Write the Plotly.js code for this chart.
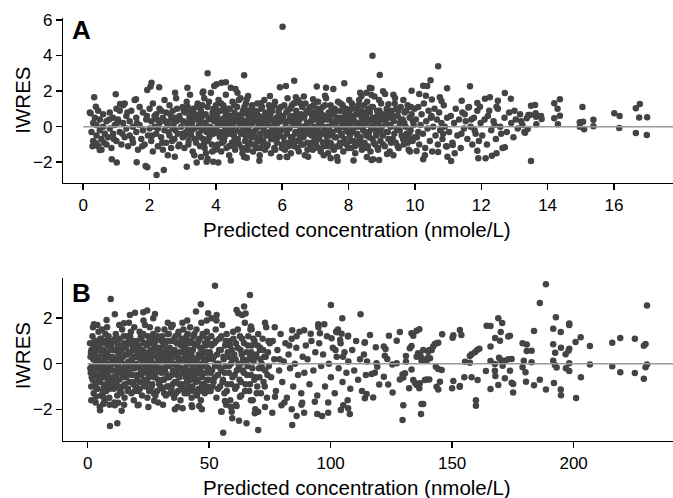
<!DOCTYPE html>
<html>
<head>
<meta charset="utf-8">
<script src="https://cdn.plot.ly/plotly-3.0.1.min.js"></script>
<style>html,body{margin:0;padding:0;background:#fff;}#chart{width:673px;height:498px;}</style>
</head>
<body>
<div id="chart"></div>
<script>
// ---------- Panel A : Predicted concentration (nmole/L) vs IWRES ----------
const aTicksX = [0, 2, 4, 6, 8, 10, 12, 14, 16];
const aTicksY = [-2, 0, 2, 4, 6];
const aLow = [
[0.2,0.8],[0.25,-0.3],[0.3,0.2],[0.3,-0.8],[0.35,0.5],[0.4,-0.5],[0.4,0.1],[0.45,-1.1],[0.45,0.9],[0.5,-0.2],[0.5,0.4],[0.55,-0.7],[0.55,-1.3],[0.6,0.7],[0.6,0.0],[0.65,-0.4],[0.7,-1.0],[0.7,0.3],[0.75,-0.6],[0.8,0.8],[0.8,-0.1],[0.85,-1.2],[0.9,0.5],[0.9,-0.4],[0.95,0.1],[1.0,1.0],[1.0,-0.8],
[1.05,0.4],[1.1,-0.3],[1.1,0.9],[1.15,-1.0],[1.2,0.2],[1.2,1.2],[1.25,-0.6],[1.3,0.6],[1.3,-0.1],[1.35,-1.1],[1.4,0.3],[1.4,-0.5],[1.45,0.9],[1.5,-0.9],[1.5,0.0],[1.55,1.5],[1.6,-0.3],[1.6,0.5],[1.65,-1.3],[1.7,0.1],[1.75,-0.7],[1.8,0.8],[1.8,-0.2],[1.85,-1.0],[1.9,0.4],[1.95,-0.5],[2.0,1.0],[2.0,-0.1],[1.7,1.1],[1.25,1.3],
[2.05,0.3],[2.05,-0.8],[2.1,1.3],[2.1,-1.4],[2.15,0.0],[2.2,0.7],[2.2,-0.4],[2.25,-1.1],[2.3,1.0],[2.3,0.2],[2.35,-0.6],[2.4,0.5],[2.4,-1.3],[2.45,1.5],[2.45,-0.2],[2.5,0.8],[2.5,-0.9],[2.55,0.1],[2.6,-0.5],[2.6,1.2],[2.65,0.4],[2.65,-1.2],[2.7,-0.1],[2.7,0.9],[2.75,-0.7],[2.8,0.3],[2.8,1.6],[2.85,-0.4],[2.9,0.6],[2.9,-1.0],[2.95,0.0],[3.0,1.1],[3.0,-0.6],[2.35,0.9],[2.55,-1.6],[2.15,0.6],[2.75,0.5],[2.25,-0.1],
[1.02,0.2],[1.18,-0.4],[1.33,0.8],[1.48,-0.7],[1.62,0.2],[1.78,-1.1],[1.92,0.6],[2.08,-0.5],[2.22,0.4],[2.38,-0.9],[2.48,0.3],[0.28,-1.1],[0.62,-0.9],[0.78,0.4],[0.92,-0.7]
];
const aCore = [
[3.02,0.3],[3.05,-1.2],[3.08,0.8],[3.1,-0.3],[3.12,1.4],[3.15,0.0],[3.18,-0.8],[3.2,0.5],[3.22,1.8],[3.25,-0.5],[3.28,0.2],[3.3,-1.4],[3.32,1.0],[3.35,-0.1],[3.38,0.7],[3.4,-0.9],[3.42,0.4],[3.45,1.3],[3.48,-0.4],[3.5,0.1],[3.52,-1.1],[3.55,0.9],[3.58,-0.2],[3.6,0.6],[3.62,-0.7],[3.65,1.6],[3.68,0.2],[3.7,-1.5],[3.72,-0.3],[3.75,1.1],[3.78,0.4],[3.8,-0.6],[3.82,0.0],[3.85,1.9],[3.88,-1.0],[3.9,0.8],[3.92,-0.4],[3.95,0.3],[3.98,-1.3],[4.0,1.2],[3.35,-1.6],[3.55,-1.7],[3.15,1.1],[3.45,0.6],[3.65,-0.9],[3.85,-0.1],[3.75,-1.8],[3.25,0.9],[3.95,0.6],[3.6,1.9],
[4.02,-0.2],[4.04,0.6],[4.06,-1.0],[4.08,1.5],[4.1,0.1],[4.12,-0.6],[4.14,0.9],[4.16,-1.4],[4.18,0.3],[4.2,-0.3],[4.22,1.2],[4.24,-0.8],[4.26,0.5],[4.28,0.0],[4.3,1.8],[4.32,-1.2],[4.34,0.7],[4.36,-0.4],[4.38,0.2],[4.4,-1.6],[4.42,1.0],[4.44,-0.1],[4.46,0.5],[4.48,-0.9],[4.5,1.4],[4.52,0.0],[4.54,-0.5],[4.56,0.8],[4.58,-1.3],[4.6,0.3],[4.62,-0.2],[4.64,1.1],[4.66,-0.7],[4.68,0.6],[4.7,-1.0],[4.72,0.1],[4.74,1.6],[4.76,-0.4],[4.78,0.4],[4.8,-1.5],[4.82,0.9],[4.84,-0.1],[4.86,0.3],[4.88,-0.8],[4.9,1.3],[4.92,-0.3],[4.94,0.7],[4.96,-1.1],[4.98,0.0],[5.0,0.5],[4.15,-0.3],[4.35,0.4],[4.55,-0.8],[4.75,0.2],[4.95,-0.5],[4.25,1.0],[4.45,-1.9],[4.65,1.9],[4.85,-1.7],[4.05,0.2],
[5.02,-0.9],[5.04,0.7],[5.06,-0.3],[5.08,1.1],[5.1,0.2],[5.12,-1.4],[5.14,0.5],[5.16,-0.6],[5.18,0.9],[5.2,-1.1],[5.22,0.3],[5.24,1.3],[5.26,-0.8],[5.28,0.0],[5.3,0.6],[5.32,-1.6],[5.34,-0.4],[5.36,1.0],[5.38,0.2],[5.4,-0.9],[5.42,0.5],[5.44,-0.2],[5.46,1.5],[5.48,-1.3],[5.5,0.8],[5.52,-0.5],[5.54,0.1],[5.56,-1.0],[5.58,0.4],[5.6,1.2],[5.62,-0.3],[5.64,0.7],[5.66,-1.5],[5.68,0.0],[5.7,0.9],[5.72,-0.7],[5.74,0.3],[5.76,-1.2],[5.78,1.4],[5.8,-0.1],[5.82,0.5],[5.84,-0.9],[5.86,0.2],[5.88,-0.5],[5.9,1.0],[5.92,-1.7],[5.94,0.6],[5.96,-0.2],[5.98,0.3],[6.0,-1.0],[5.15,-0.5],[5.45,0.3],[5.75,-0.4],[5.35,-1.2],[5.65,1.0],
[6.02,0.4],[6.04,-0.6],[6.06,1.2],[6.08,-1.3],[6.1,0.0],[6.12,0.8],[6.14,-0.4],[6.16,1.6],[6.18,-0.9],[6.2,0.3],[6.22,-0.1],[6.24,1.0],[6.26,-1.5],[6.28,0.6],[6.3,-0.6],[6.32,0.2],[6.34,1.3],[6.36,-1.1],[6.38,0.5],[6.4,-0.3],[6.42,0.9],[6.44,-0.8],[6.46,0.1],[6.48,1.5],[6.5,-1.4],[6.52,0.4],[6.54,-0.2],[6.56,0.7],[6.58,-1.0],[6.6,1.1],[6.62,0.0],[6.64,-0.6],[6.66,0.5],[6.68,-1.6],[6.7,1.3],[6.72,-0.4],[6.74,0.2],[6.76,-0.9],[6.78,0.8],[6.8,-0.1],[6.82,1.0],[6.84,-1.2],[6.86,0.3],[6.88,-0.5],[6.9,0.6],[6.92,-1.3],[6.94,1.2],[6.96,0.0],[6.98,-0.7],[7.0,0.4],[6.25,0.3],[6.55,-0.5],[6.85,0.9],[6.15,-1.7],[6.65,1.7],
[7.02,-1.0],[7.04,0.6],[7.06,-0.2],[7.08,1.4],[7.1,0.1],[7.12,-0.7],[7.14,0.9],[7.16,-1.4],[7.18,0.3],[7.2,-0.4],[7.22,1.1],[7.24,0.0],[7.26,-1.1],[7.28,0.6],[7.3,-0.2],[7.32,1.6],[7.34,-0.8],[7.36,0.4],[7.38,-1.5],[7.4,0.8],[7.42,0.0],[7.44,-0.5],[7.46,1.2],[7.48,-1.0],[7.5,0.3],[7.52,-0.3],[7.54,0.7],[7.56,-1.3],[7.58,1.0],[7.6,0.1],[7.62,-0.6],[7.64,0.5],[7.66,-1.1],[7.68,1.4],[7.7,-0.2],[7.72,0.3],[7.74,-0.9],[7.76,0.9],[7.78,-0.4],[7.8,0.0],[7.82,1.2],[7.84,-1.4],[7.86,0.5],[7.88,-0.7],[7.9,0.2],[7.92,1.0],[7.94,-1.0],[7.96,0.6],[7.98,-0.3],[8.0,0.1],[7.15,0.4],[7.45,-0.9],[7.75,0.5],[7.25,-1.6],[7.65,-1.7],
[8.02,0.8],[8.04,-0.5],[8.06,0.2],[8.08,-1.2],[8.1,1.3],[8.12,-0.1],[8.14,0.6],[8.16,-0.8],[8.18,0.3],[8.2,-1.5],[8.22,1.0],[8.24,0.0],[8.26,-0.4],[8.28,0.7],[8.3,-1.0],[8.32,1.5],[8.34,0.2],[8.36,-0.6],[8.38,0.9],[8.4,-1.3],[8.42,0.4],[8.44,-0.2],[8.46,1.2],[8.48,-0.9],[8.5,0.1],[8.52,0.6],[8.54,-0.5],[8.56,1.4],[8.58,-1.1],[8.6,0.3],[8.62,-0.3],[8.64,0.8],[8.66,-1.4],[8.68,0.0],[8.7,1.1],[8.72,-0.7],[8.74,0.5],[8.76,-0.1],[8.78,1.7],[8.8,-1.0],[8.82,0.3],[8.84,-0.5],[8.86,0.9],[8.88,-1.2],[8.9,0.2],[8.92,-0.2],[8.94,0.6],[8.96,-0.8],[8.98,1.3],[9.0,0.0],[8.35,1.9],[8.55,-1.7],[8.15,-1.9]
];
const aCore2 = [
[2.52,0.2],[2.57,-0.3],[2.62,0.7],[2.68,-0.8],[2.72,0.1],[2.78,-0.2],[2.83,1.0],[2.87,-1.1],[2.92,0.4],[2.98,-0.4],[3.03,0.9],[3.07,-0.5],[3.13,0.2],[3.17,-1.0],[3.23,0.6],[3.27,-0.2],[3.33,0.4],[3.37,-0.7],[3.43,1.1],[3.47,0.0],
[3.53,-0.6],[3.56,0.3],[3.59,1.2],[3.63,-0.1],[3.66,-1.2],[3.69,0.7],[3.73,0.0],[3.76,-0.8],[3.79,1.4],[3.83,0.5],[3.86,-0.4],[3.89,-1.4],[3.93,1.0],[3.96,-0.1],[3.99,0.4],
[4.03,-1.2],[4.06,0.9],[4.09,-0.4],[4.13,0.4],[4.16,1.3],[4.19,-0.9],[4.23,0.1],[4.26,-0.6],[4.29,0.8],[4.33,-0.2],[4.36,1.0],[4.39,-1.1],[4.43,0.6],[4.46,-0.4],[4.49,0.2],[4.53,-1.1],[4.56,1.2],[4.59,-0.2],[4.63,0.5],[4.66,-0.9],[4.69,1.5],[4.73,-0.3],[4.76,0.7],[4.79,-1.2],[4.83,0.0],[4.86,1.1],[4.89,-0.5],[4.93,0.3],[4.96,-1.3],[4.99,0.9],
[5.03,0.1],[5.06,-0.6],[5.09,1.2],[5.13,-1.0],[5.16,0.4],[5.19,-0.2],[5.23,0.8],[5.26,-1.2],[5.29,0.2],[5.33,-0.6],[5.36,0.5],[5.39,1.1],[5.43,-0.8],[5.46,0.0],[5.49,0.7],[5.53,-1.1],[5.56,0.3],[5.59,-0.4],[5.63,1.0],[5.66,-0.7],[5.69,0.4],[5.73,-0.2],[5.76,1.2],[5.79,-1.3],[5.83,0.2],[5.86,-0.6],[5.89,0.8],[5.93,-0.3],[5.96,1.1],[5.99,-1.2],
[6.03,0.6],[6.06,-0.9],[6.09,0.3],[6.13,-0.2],[6.16,0.9],[6.19,-1.1],[6.23,0.5],[6.26,-0.6],[6.29,1.2],[6.33,-0.9],[6.36,0.1],[6.39,-0.4],[6.43,0.7],[6.46,-1.2],[6.49,0.3],[6.53,-0.7],[6.56,1.3],[6.59,0.0],[6.63,-1.0],[6.66,0.6],[6.69,-0.3],[6.73,0.9],[6.76,-1.3],[6.79,0.2],[6.83,-0.4],[6.86,1.1],[6.89,-0.9],[6.93,0.4],[6.96,-0.2],[6.99,0.8],
[7.03,-0.5],[7.06,1.0],[7.09,-1.2],[7.13,0.2],[7.16,-0.3],[7.19,0.7],[7.23,-0.9],[7.26,0.4],[7.29,1.2],[7.33,-0.5],[7.36,0.0],[7.39,-1.1],[7.43,0.6],[7.46,-0.3],[7.49,1.0],[7.53,-1.2],[7.56,0.2],[7.59,-0.6],[7.63,0.9],[7.66,-0.1],[7.69,0.5],[7.73,-1.1],[7.76,1.3],[7.79,-0.5],[7.83,0.3],[7.86,-0.9],[7.89,0.8],[7.93,-0.2],[7.96,0.4],[7.99,-1.2],
[8.03,0.5],[8.06,-0.8],[8.09,1.0],[8.13,-0.3],[8.16,0.3],[8.19,-1.1],[8.23,0.7],[8.26,-0.5],[8.29,1.2],[8.33,-0.8],[8.36,0.0],[8.39,0.5],[8.43,-1.0],[8.46,0.8],[8.49,-0.3],[8.53,0.3],[8.56,-1.2],[8.59,1.0],[8.63,-0.6],[8.66,0.4],[8.69,-0.1],[8.73,1.1],[8.76,-0.9],[8.79,0.2],[8.83,-0.4],[8.86,0.6],[8.89,-1.3],[8.93,0.9],[8.96,-0.2],[8.99,0.4],
[9.04,-1.0],[9.08,0.5],[9.14,-0.3],[9.18,0.8],[9.24,0.1],[9.28,-0.9],[9.34,0.6],[9.38,-0.4],[9.44,1.0],[9.48,-1.1],[9.54,-0.2],[9.58,0.4],[9.64,-0.7],[9.68,0.2],[9.74,0.9],[9.78,-0.9],[9.84,-0.3],[9.88,1.1],[9.94,0.3],[9.98,-0.6]
];
const aTail = [
[9.03,-0.5],[9.06,0.7],[9.09,-1.1],[9.12,0.2],[9.15,1.0],[9.18,-0.3],[9.21,0.5],[9.24,-1.4],[9.27,0.0],[9.3,0.9],[9.33,-0.7],[9.36,0.3],[9.39,1.3],[9.42,-0.9],[9.45,-0.1],[9.48,0.6],[9.51,-1.2],[9.54,0.2],[9.57,1.1],[9.6,-0.5],[9.63,0.4],[9.66,-1.0],[9.69,0.8],[9.72,0.0],[9.75,-0.4],[9.78,1.2],[9.81,-1.3],[9.84,0.5],[9.87,-0.2],[9.9,0.7],[9.93,-0.8],[9.96,0.1],[9.99,1.0],[9.2,-0.7],[9.5,0.9],[9.8,-0.6],[9.35,-1.6],[9.65,1.5],
[10.03,0.4],[10.06,-0.6],[10.1,1.1],[10.13,-1.0],[10.17,0.1],[10.2,0.7],[10.24,-0.4],[10.27,1.3],[10.31,-1.2],[10.34,0.3],[10.38,-0.1],[10.41,0.9],[10.45,-0.8],[10.48,0.5],[10.52,-1.4],[10.55,0.0],[10.59,1.0],[10.62,-0.5],[10.66,0.4],[10.69,-1.0],[10.73,0.8],[10.76,-0.2],[10.8,0.2],[10.83,-0.7],[10.87,1.2],[10.9,0.0],[10.94,-1.1],[10.97,0.5],[10.1,-0.3],[10.5,0.6],[10.85,-0.4],[10.3,-1.6],
[11.03,-0.3],[11.08,0.6],[11.13,-0.9],[11.18,0.2],[11.23,1.0],[11.28,-0.5],[11.33,0.4],[11.38,-1.2],[11.43,0.8],[11.48,-0.1],[11.53,0.3],[11.58,-0.7],[11.63,1.1],[11.68,0.0],[11.73,-1.0],[11.78,0.5],[11.83,-0.4],[11.88,0.9],[11.93,-0.8],[11.98,0.2],[11.2,-1.5],[11.5,0.7],[11.8,-0.2],[11.4,-0.4],[11.7,0.4],
[12.03,-0.5],[12.1,0.4],[12.17,-1.0],[12.24,0.9],[12.3,-0.2],[12.37,0.3],[12.44,-0.7],[12.5,1.0],[12.57,0.0],[12.64,-1.2],[12.7,0.5],[12.77,-0.3],[12.84,0.8],[12.9,0.2],[12.97,-0.6],[13.04,0.4],[13.1,-0.1],[13.17,0.7],[13.24,0.1],[13.3,-0.3],[12.2,0.6],[12.6,-0.4],[13.0,0.9],[12.4,0.1],[13.2,0.3]
];
const aRead = [
[13.50,1.18],[13.62,1.22],[13.42,0.66],[13.37,0.47],[13.47,0.66],[13.64,0.75],[13.65,0.56],[13.80,0.60],[13.82,0.43],[13.66,0.13],[13.40,-0.13],[13.32,-0.34],[13.50,-1.93],[14.20,1.31],[14.37,1.54],[14.30,1.01],[14.37,0.62],[14.20,0.47],[14.31,0.13],[15.05,1.11],[14.97,0.25],[15.07,0.28],[14.97,0.00],[15.10,-0.15],[15.38,0.39],[15.38,0.02],[16.01,0.75],[16.17,0.60],[16.16,-0.07],[16.66,1.03],[16.78,1.28],[16.76,0.51],[17.00,0.53],[16.66,-0.35],[16.99,-0.47],
[8.72,3.99],[8.94,2.90],[10.70,3.39],[10.47,2.61],[10.25,2.30],[10.37,2.29],[10.97,2.16],[11.66,2.27],[9.90,2.02],[12.71,1.89],[12.89,1.57],[12.26,1.65],[12.11,1.57],[12.50,1.46],[11.41,1.46],[11.88,1.33],[11.96,1.12],[11.61,1.07],[12.46,1.12],[10.75,1.65],[10.80,1.44],[10.51,1.52],[10.33,1.74],[10.13,1.84],[9.04,1.99],[9.10,1.84],[9.35,1.80],[9.40,1.61],[8.92,1.50],[9.20,1.26],[8.69,2.16],[8.69,1.78],
[10.25,-1.83],[10.70,-1.42],[10.98,-1.69],[11.09,-1.93],[10.96,-1.12],[11.14,-1.03],[11.91,-1.78],[12.13,-1.78],[12.32,-1.63],[12.46,-1.49],[12.71,-1.16],[11.88,-1.35],[8.92,-1.87],[9.16,-1.53],[8.74,-1.83],[9.85,-1.40],[10.05,-1.37],
[6.01,5.62],[4.85,2.89],[6.36,2.58],[7.87,2.44],[5.93,2.21],[6.11,2.29],[7.04,2.25],[7.32,2.19],[7.54,2.12],[8.64,2.19],[4.17,2.47],[4.30,2.49],[4.02,2.38],[4.45,2.19],[4.59,2.12],[4.97,1.72],[4.93,1.54],[5.63,1.72],[5.36,1.31],[6.41,1.65],[6.40,1.35],[6.93,1.54],[7.29,1.74],[8.02,1.50],[8.39,1.72],[8.54,1.91],
[4.07,-2.02],[4.93,-1.74],[5.31,-1.91],[6.13,-1.69],[6.78,-1.69],[7.46,-1.78],[7.67,-1.91],[8.69,-1.87],
[3.75,3.00],[2.06,2.47],[2.03,2.25],[1.93,2.06],[2.29,2.21],[2.77,1.91],[3.14,2.19],[3.62,1.97],[3.95,2.29],[0.33,1.65],[0.98,1.82],[1.59,1.54],[0.38,1.12],[0.22,0.75],[1.11,1.28],
[0.86,-1.83],[1.01,-2.02],[1.61,-2.00],[1.88,-2.21],[1.93,-2.28],[2.21,-2.71],[2.43,-2.43],[2.76,-1.69],[3.12,-2.25],[3.42,-2.02],[3.72,-1.97],[3.92,-1.97],[0.50,-1.31],[0.40,-0.93]
];

// ---------- Panel B ----------
const bTicksX = [0, 50, 100, 150, 200];
const bTicksY = [-2, 0, 2];
const bLow = [
[1.0,0.9],[1.2,0.3],[1.3,-0.4],[1.5,-1.0],[1.6,0.6],[1.8,-0.1],[2.0,1.2],[2.1,-0.7],[2.3,0.2],[2.5,-1.3],[2.6,0.8],[2.8,-0.3],[3.0,0.4],[3.2,-0.9],[3.4,1.0],[3.5,0.0],[3.7,-0.5],[3.9,0.6],[4.1,-1.1],[4.3,0.2],[4.5,1.4],[4.7,-0.2],[4.9,0.7],[5.1,-0.8],[5.3,0.1],[5.5,-1.4],[5.7,1.1],[5.9,-0.4],[6.1,0.4],[6.3,-0.1],[6.5,0.9],[6.7,-1.0],[6.9,0.2],[7.1,-0.6],[7.3,1.3],[7.5,0.0],[7.7,-1.2],[7.9,0.5],[8.1,-0.3],[8.3,0.8],[8.5,-0.7],[8.7,0.3],[8.9,-1.5],[9.1,1.0],[9.3,-0.2],[9.5,0.6],[9.7,-0.9],[9.9,0.1],[1.5,-1.6],[2.2,1.6],[3.3,-1.7],[4.0,1.7],[5.0,-1.9],[6.0,1.5],[7.0,-1.6],[8.0,1.6],[9.0,-1.8],[1.1,-0.2],[2.7,0.4],[4.4,-0.5],[6.2,-0.6],[7.8,0.9],
[10.2,0.3],[10.4,-0.6],[10.6,1.0],[10.8,-1.1],[11.0,0.0],[11.2,0.6],[11.4,-0.3],[11.6,1.3],[11.8,-0.9],[12.0,0.2],[12.2,-1.4],[12.4,0.8],[12.6,-0.1],[12.8,0.4],[13.0,-0.7],[13.2,1.1],[13.4,-1.2],[13.6,0.1],[13.8,0.6],[14.0,-0.4],[14.2,1.5],[14.4,-1.0],[14.6,0.3],[14.8,-0.2],[15.0,0.9],[15.2,-1.5],[15.4,0.0],[15.6,0.7],[15.8,-0.6],[16.0,1.2],[16.2,-0.3],[16.4,0.4],[16.6,-1.1],[16.8,0.1],[17.0,1.0],[17.2,-0.8],[17.4,0.5],[17.6,-0.1],[17.8,1.4],[18.0,-1.3],[18.2,0.2],[18.4,-0.5],[18.6,0.8],[18.8,-0.9],[19.0,0.3],[19.2,1.6],[19.4,-0.2],[19.6,0.6],[19.8,-1.0],[20.0,0.0],[11.0,-1.7],[13.0,1.7],[15.0,-1.8],[17.0,1.8],[19.0,-1.6],[12.5,0.5],[16.5,-0.5],
[20.2,1.0],[20.4,-0.5],[20.6,0.4],[20.8,-1.2],[21.0,0.7],[21.2,-0.1],[21.4,1.4],[21.6,-0.8],[21.8,0.2],[22.0,-0.3],[22.2,1.1],[22.4,-1.4],[22.6,0.5],[22.8,0.0],[23.0,0.9],[23.2,-0.7],[23.4,0.3],[23.6,1.7],[23.8,-1.0],[24.0,0.1],[24.2,-0.4],[24.4,0.8],[24.6,-1.5],[24.8,1.2],[25.0,0.0],[25.2,-0.6],[25.4,0.5],[25.6,1.6],[25.8,-1.1],[26.0,0.2],[26.2,-0.2],[26.4,0.9],[26.6,-0.9],[26.8,0.4],[27.0,1.3],[27.2,-1.3],[27.4,0.0],[27.6,0.6],[27.8,-0.5],[28.0,1.0],[28.2,-0.1],[28.4,0.3],[28.6,-1.2],[28.8,1.5],[29.0,-0.7],[29.2,0.7],[29.4,0.1],[29.6,-0.3],[29.8,1.1],[30.0,-1.0],[21.0,-1.8],[23.0,1.9],[25.0,-1.9],[27.0,2.0],[29.0,-1.7],[22.5,0.6],[26.5,-0.4]
];
const bCore = [
[30.2,0.4],[30.4,-0.4],[30.6,1.2],[30.8,-1.1],[31.0,0.1],[31.2,0.8],[31.4,-0.7],[31.6,1.5],[31.8,-0.2],[32.0,0.5],[32.2,-1.4],[32.4,0.0],[32.6,1.0],[32.8,-0.6],[33.0,0.3],[33.2,-1.0],[33.4,1.3],[33.6,-0.1],[33.8,0.7],[34.0,-1.3],[34.2,0.2],[34.4,1.6],[34.6,-0.5],[34.8,0.4],[35.0,-0.9],[35.2,1.0],[35.4,0.0],[35.6,-1.5],[35.8,0.6],[36.0,-0.3],[36.2,1.2],[36.4,-0.8],[36.6,0.3],[36.8,-0.1],[37.0,0.9],[37.2,-1.2],[37.4,1.4],[37.6,0.1],[37.8,-0.6],[38.0,0.5],[38.2,-1.6],[38.4,0.8],[38.6,-0.2],[38.8,1.1],[39.0,-0.9],[39.2,0.2],[39.4,1.5],[39.6,-0.4],[39.8,0.6],[40.0,-1.1],[31.0,-1.8],[33.0,1.8],[35.0,1.7],[37.0,-1.9],[39.0,1.8],[32.5,0.6],[36.5,-0.4],
[40.2,0.3],[40.4,-0.6],[40.6,1.0],[40.8,-1.3],[41.0,0.0],[41.2,1.3],[41.4,-0.3],[41.6,0.6],[41.8,-1.0],[42.0,0.2],[42.2,1.6],[42.4,-0.7],[42.6,0.4],[42.8,-1.5],[43.0,0.9],[43.2,-0.1],[43.4,-0.5],[43.6,1.2],[43.8,-1.2],[44.0,0.1],[44.2,-0.3],[44.4,0.2],[44.6,-0.8],[44.8,1.5],[45.0,-1.4],[45.2,0.0],[45.4,-0.4],[45.6,1.0],[45.8,-1.1],[46.0,0.3],[46.2,-0.2],[46.4,0.7],[46.6,-1.6],[46.8,1.8],[47.0,-0.6],[47.2,0.4],[47.4,-0.1],[47.6,1.2],[47.8,-0.9],[48.0,0.5],[48.2,-1.3],[48.4,0.0],[48.6,0.8],[48.8,-0.4],[49.0,1.4],[49.2,-1.0],[49.4,0.2],[49.6,-0.2],[49.8,0.9],[50.0,-0.7],[41.0,1.9],[43.0,-1.9],[47.0,-2.0],[49.0,1.9],
[50.3,0.5],[50.6,-1.2],[50.9,1.2],[51.2,-0.3],[51.5,0.2],[51.8,-0.8],[52.1,0.9],[52.4,-0.1],[52.7,1.5],[53.0,-1.5],[53.3,0.4],[53.6,-0.5],[53.9,0.0],[54.2,1.1],[54.5,-1.0],[54.8,0.6],[55.1,-0.3],[55.4,1.7],[55.7,-0.7],[56.0,0.2],[56.3,-1.3],[56.6,0.8],[56.9,-0.1],[57.2,1.3],[57.5,-0.9],[57.8,0.3],[58.1,-0.4],[58.4,1.0],[58.7,-1.6],[59.0,0.0],[59.3,0.6],[59.6,-0.6],[59.9,1.4],[51.0,2.0],[53.0,1.9],[57.0,-1.8],[55.0,-2.1],[59.0,-1.9],
[60.3,0.4],[60.7,-1.1],[61.0,0.9],[61.4,-0.3],[61.8,1.5],[62.1,0.0],[62.5,-0.7],[62.9,0.6],[63.2,-1.4],[63.6,1.1],[64.0,0.2],[64.3,-0.4],[64.7,1.8],[65.0,-0.9],[65.4,0.5],[65.8,-0.1],[66.1,1.2],[66.5,-1.2],[66.9,0.3],[67.2,-0.5],[67.6,0.8],[68.0,-1.6],[68.3,0.1],[68.7,1.0],[69.1,-0.6],[69.4,0.4],[69.8,-1.0],[70.2,1.3],[70.5,-0.2],[70.9,0.6],[71.3,-1.3],[71.6,0.0],[72.0,1.1],[72.4,-0.8],[72.7,0.3],[73.1,-0.3],[73.5,1.6],[73.8,-1.5],[74.2,0.5],[74.6,-0.1],[75.0,0.9],[61.0,-1.8],[65.0,2.2],[69.0,-2.0],[73.0,-1.9],[63.0,0.0],[67.0,1.5],[71.0,0.7]
];
const bCore2 = [
[1.4,0.5],[1.7,-0.6],[2.4,-0.2],[2.9,1.0],[3.6,-1.1],[3.8,0.3],[4.2,0.9],[4.6,-0.7],[4.8,0.1],[5.2,1.1],[5.6,-0.3],[5.8,0.5],
[6.4,-1.2],[6.6,0.6],[6.8,-0.2],[7.2,0.2],[7.4,-0.9],[7.6,1.0],[8.2,-0.5],[8.4,0.3],[8.6,1.2],[9.2,-1.1],[9.4,0.0],[9.6,0.8],
[10.1,-0.3],[10.5,0.6],[10.9,-0.8],[11.3,1.1],[11.5,0.2],[11.9,-0.5],[12.3,0.9],[12.7,-1.0],[12.9,0.1],[13.3,-0.3],[13.5,0.7],[13.9,-1.3],
[14.1,0.3],[14.5,-0.6],[14.9,1.2],[15.3,-0.9],[15.5,0.4],[15.9,-0.1],[16.1,0.8],[16.5,-1.2],[16.9,0.5],[17.1,-0.4],[17.5,1.2],[17.9,0.0],
[18.1,-0.8],[18.5,0.6],[18.9,-0.2],[19.1,1.0],[19.5,-1.2],[19.9,0.3],[20.3,-0.7],[20.7,0.8],[20.9,-0.1],[21.3,0.4],[21.5,-1.1],[21.9,1.2],
[22.1,-0.5],[22.7,0.2],[22.9,1.3],[23.3,-0.9],[23.5,0.5],[23.9,-0.2],[24.3,0.9],[24.5,-0.8],[24.9,0.3],[25.3,-1.2],[25.5,1.0],[25.9,-0.3],
[26.1,0.6],[26.3,-1.0],[26.7,1.1],[26.9,0.0],[27.3,-0.6],[27.5,0.8],[27.9,-1.4],[28.1,0.4],[28.5,-0.3],[28.7,1.2],[29.1,0.2],[29.5,-0.9],
[29.7,0.6],[30.1,-0.2],[30.5,1.0],[30.9,-0.7],[31.1,0.3],[31.5,-1.3],[31.9,0.9],[32.1,-0.4],[32.3,0.2],[32.7,-1.0],[32.9,1.3],[33.3,0.5],
[33.5,-0.6],[33.9,0.0],[34.1,1.0],[34.5,-1.1],[34.7,0.6],[35.1,-0.3],[35.3,0.3],[35.7,1.1],[35.9,-0.8],[36.1,0.0],[36.3,-1.3],[36.7,0.9],
[36.9,-0.5],[37.1,0.4],[37.3,1.3],[37.7,-0.9],[37.9,0.2],[38.1,-0.2],[38.3,1.0],[38.7,-1.1],[38.9,0.5],[39.1,-0.4],[39.3,0.9],[39.7,0.1],
[39.9,-1.3],[40.1,0.7],[40.3,-0.2],[40.7,1.2],[40.9,-0.8],[41.1,0.4],[41.3,-0.5],[41.7,0.9],[41.9,-1.2],[42.1,0.1],[42.3,-0.4],[42.7,1.0],
[42.9,0.3],[43.1,-1.0],[43.3,0.6],[43.7,-0.3],[43.9,1.3],[44.1,-0.6],[44.3,0.8],[44.7,-1.3],[44.9,0.2],[45.1,0.9],[45.3,-0.7],[45.7,0.4],
[45.9,-0.2],[46.1,1.1],[46.3,-1.2],[46.7,0.0],[46.9,0.6],[47.1,-0.9],[47.3,1.3],[47.7,-0.4],[47.9,0.2],[48.1,-1.1],[48.3,0.9],[48.7,-0.1],
[48.9,0.5],[49.1,-0.7],[49.3,1.1],[49.7,-1.2],[49.9,0.3],
[50.5,-0.4],[51.0,0.8],[51.4,-1.0],[51.9,0.3],[52.3,-0.6],[52.8,1.0],[53.2,0.0],[53.7,-1.1],[54.1,0.6],[54.6,-0.2],[55.0,1.2],[55.5,-0.8],[55.9,0.3],[56.4,-0.4],[56.8,1.0],[57.3,-1.2],[57.7,0.5],[58.2,-0.1],[58.6,0.8],[59.1,-0.9],[59.5,0.2],[60.0,1.1],[60.5,-0.5],[60.9,0.2],[61.3,-1.0],[61.7,0.7],[62.2,-0.2],[62.7,1.2],[63.1,-0.8],[63.4,0.4],[63.9,-0.3],[64.4,0.9],[64.8,-1.2],[65.2,0.1],[65.6,-0.5],[66.0,0.8],[66.4,0.2],[66.8,-0.9],[67.3,0.5],[67.8,-0.2],[68.2,1.1],[68.6,-0.7],[69.2,0.3],[69.6,-1.3],[70.0,0.8],[70.7,-0.6],[71.1,0.2],[71.8,-0.2],[72.2,0.6],[72.9,-1.0],[73.3,0.3],[74.0,-0.5],[74.4,1.0]
];
const bMid = [
[75.5,-0.6],[76.2,1.0],[76.8,0.2],[77.5,-1.2],[78.1,0.6],[78.8,-0.3],[79.4,1.3],[80.1,-0.8],[80.7,0.1],[81.4,0.9],[82.0,-1.5],[82.7,0.4],[83.3,-0.2],[84.0,1.1],[84.6,-1.0],[85.3,0.0],[85.9,0.7],[86.6,-0.5],[87.2,1.4],[87.9,-1.3],[88.5,0.3],[89.2,-0.4],[89.8,0.8],[77.0,1.6],[81.0,-1.7],[84.0,-2.0],[86.0,1.2],[88.0,-1.8],[79.0,0.2],[83.0,0.8],
[90.5,0.2],[91.3,-0.9],[92.1,1.0],[92.9,-0.3],[93.7,0.5],[94.5,-1.4],[95.3,0.9],[96.1,-0.1],[96.9,0.4],[97.7,-1.0],[98.5,1.2],[99.3,0.0],[100.1,-0.6],[100.9,0.7],[101.7,-1.3],[102.5,0.3],[103.3,-0.2],[104.1,0.9],[104.9,-0.8],[105.7,0.5],[106.5,-0.4],[107.3,0.1],[108.1,-1.1],[108.9,0.6],[109.7,-0.3],[110.5,1.0],[111.3,-0.7],[112.1,0.2],[112.9,-1.2],[113.7,0.4],[114.5,-0.5],[115.0,0.1],[95.0,1.6],[99.0,-1.7],[103.0,1.5],[107.0,-1.6],
[107.1,1.19],[102.3,1.41],[103.9,1.04],[114.0,0.92],[102.0,0.60],[105.1,0.31]
];
const bRead = [
[188.6,3.49],[186.1,2.67],[230.2,2.55],[192.7,2.04],[198.2,1.77],[198.2,1.70],[191.6,1.53],[194.7,1.39],[183.7,1.44],[202.9,1.16],[200.8,0.95],[206.7,0.78],[191.6,0.85],[194.8,0.70],[198.2,0.66],[197.9,0.57],[196.7,0.41],[192.4,0.48],[182.7,0.57],[182.7,0.06],[191.6,0.13],[192.3,-0.06],[193.0,-0.17],[198.2,0.02],[196.8,-0.20],[198.2,-0.32],[206.7,-0.03],[183.7,-0.95],[186.1,-0.70],[188.6,-1.13],[191.9,-0.85],[194.7,-1.13],[194.8,-1.39],[201.0,-1.51],[203.0,-0.60],[215.9,0.92],[219.2,1.13],[225.2,1.10],[228.9,0.79],[229.6,0.87],[215.9,-0.11],[219.2,-0.38],[225.2,-0.41],[228.9,-0.66],[229.6,-0.16],[230.2,-0.04],
[169.0,2.00],[170.6,1.79],[164.2,1.67],[165.8,1.66],[170.0,1.39],[167.7,1.13],[169.7,1.01],[173.1,1.19],[173.8,1.23],[165.8,0.76],[179.0,0.90],[180.7,0.84],[180.7,0.56],[169.3,0.26],[170.0,0.16],[171.7,0.13],[173.1,0.19],[174.5,0.21],[165.8,0.12],[167.6,-0.01],[163.9,-0.32],[167.6,-0.31],[167.8,-0.54],[170.8,-0.09],[173.8,-0.31],[171.7,-0.64],[174.5,-0.84],[175.1,-0.89],[169.0,-0.94],[165.8,-1.11],[175.1,-1.27],[179.0,-0.16],[180.2,-0.38],[180.4,-0.79],[179.5,0.13],
[153.2,1.48],[150.5,1.25],[150.2,1.14],[145.9,1.29],[161.2,0.66],[160.3,0.60],[159.4,0.50],[158.0,0.41],[157.3,0.34],[155.3,0.09],[157.3,0.04],[155.0,-0.60],[158.0,-0.60],[160.5,-0.72],[150.5,-0.76],[153.2,-0.98],[150.0,-1.08],[159.8,-1.60],[159.8,-1.85],
[116.2,1.26],[118.6,0.72],[118.9,0.02],[119.2,-0.13],[118.2,-0.40],[116.9,-0.45],[120.0,-0.91],[117.5,-1.48],[121.9,-0.57],[121.9,0.75],[122.6,0.65],[122.3,0.35],[124.0,1.23],[123.3,0.21],[123.7,-0.91],[125.5,-1.26],[125.4,-0.03],[127.2,1.01],[128.5,1.39],[127.2,0.02],[128.5,-0.69],[129.6,-0.47],[130.6,-0.42],[129.9,-0.61],[129.9,-1.82],[129.6,-2.47],[131.0,0.34],[131.0,0.09],[132.3,-1.08],[132.6,0.68],[133.3,0.78],[133.3,1.34],[134.0,1.23],[135.4,1.45],[136.5,1.51],[133.3,-0.25],[134.0,-0.72],[134.7,-0.84],[135.4,-0.94],[136.5,-1.08],[136.7,-0.86],[135.4,0.31],[136.0,0.46],[136.7,0.43],[138.1,0.60],[137.0,0.34],[137.4,0.13],[138.1,0.19],[137.4,-1.77],[138.1,-1.77],[137.2,-2.21],[138.8,-0.72],[139.5,0.13],[140.2,0.53],[140.6,0.60],[141.6,0.60],[142.2,0.75],[142.9,0.87],[143.6,0.90],[144.3,0.92],[140.9,0.24],[140.2,0.28],[139.5,-0.69],[140.6,-0.69],[143.3,-0.13],[144.3,-0.23],[145.7,-0.28],[143.6,-1.01],[144.3,-1.13],[145.0,-0.79],[153.1,-1.01],[153.8,1.26],
[100.1,2.58],[112.3,2.17],[104.8,2.00],[66.8,3.02],[64.4,2.51],[61.3,2.36],[62.0,2.22],[63.6,2.14],[52.4,3.42],[53.1,2.14],[73.0,1.80],[67.2,1.63],[67.5,1.51],[94.9,1.73],[97.4,1.73],[102.5,1.38],[104.5,1.31],[107.2,1.23],[114.1,0.94],[84.2,1.47],[89.1,1.47],[91.8,1.31],[95.6,1.34],[100.4,1.12],
[55.8,-3.03],[70.2,-2.91],[84.2,-2.69],[55.1,-2.11],[59.5,-2.40],[62.3,-2.50],[65.4,-2.62],[68.8,-2.18],[70.2,-2.11],[76.0,-2.15],[61.3,-1.86],[59.3,-2.11],[56.5,-1.64],[62.7,-1.45],[67.2,-1.60],[86.0,-2.30],[89.1,-2.15],[94.5,-2.21],[96.5,-2.30],[99.0,-2.15],[88.3,-1.71],[93.5,-1.67],[105.2,-1.82],[104.2,-2.03],[107.2,-1.96],[107.9,-2.21],[77.1,-1.45],[79.8,-1.82],[114.1,-1.52],[114.8,-1.33],
[9.5,2.84],[9.2,-2.74],[12.2,-2.62],[46.6,2.61],[44.6,2.29],[49.6,2.21],[24.5,2.33],[22.9,2.26],[19.5,2.24],[17.4,2.14],[11.2,2.17],[7.8,1.92],[2.6,1.73],[27.7,2.18],[14.9,1.78],[5.1,-2.04],[14.0,-2.07],[11.2,-1.82],[12.6,-1.71],[6.4,-1.77],[20.6,-1.82],[27.4,-1.63],[35.9,-2.00],[39.1,-1.96],[42.8,-1.82],[45.9,-1.86],[3.4,-1.45],[6.4,-1.45]
];

const ptsA = aLow.concat(aCore, aCore2, aTail, aRead);
const ptsB = bLow.concat(bCore, bCore2, bMid, bRead);
const xRangeA = [-0.6, 17.78], yRangeA = [-3.15, 6.09];
const xRangeB = [-10.0, 240.9], yRangeB = [-3.38, 3.75];
const xTitle = 'Predicted concentration (nmole/L)';
const yTitle = 'IWRES';

const FONT = '"Liberation Sans", Arial, Helvetica, sans-serif';
const dotColor = '#444444';

function axisX(range, ticks, domain, anchor) {
  return {
    domain: domain, range: range, anchor: anchor,
    tickvals: ticks, ticktext: ticks.map(String),
    showline: true, linecolor: '#000', linewidth: 1.5,
    ticks: 'outside', ticklen: 6, tickwidth: 1.5, tickcolor: '#000',
    showgrid: false, zeroline: false,
    tickfont: {family: FONT, size: 17, color: '#000'}
  };
}
function axisY(range, ticks, domain, anchor) {
  return {
    domain: domain, range: range, anchor: anchor,
    tickvals: ticks,
    showline: true, linecolor: '#000', linewidth: 1.5,
    ticks: 'outside', ticklen: 6, tickwidth: 1.5, tickcolor: '#000',
    showgrid: false, zeroline: false,
    tickfont: {family: FONT, size: 17, color: '#000'}
  };
}

const traces = [
  {type: 'scatter', mode: 'markers', x: ptsA.map(p => p[0]), y: ptsA.map(p => p[1]), xaxis: 'x', yaxis: 'y',
   marker: {size: 6.5, color: dotColor}, hoverinfo: 'none'},
  {type: 'scatter', mode: 'markers', x: ptsB.map(p => p[0]), y: ptsB.map(p => p[1]), xaxis: 'x2', yaxis: 'y2',
   marker: {size: 6.5, color: dotColor}, hoverinfo: 'none'}
];

const titleFont = {family: FONT, size: 20.5, color: '#000'};
const layout = {
  width: 673, height: 498,
  margin: {l: 0, r: 0, t: 0, b: 0},
  paper_bgcolor: '#fff', plot_bgcolor: '#fff',
  showlegend: false,
  xaxis: axisX(xRangeA, aTicksX, [0.0941, 1], 'y'),
  yaxis: axisY(yRangeA, aTicksY, [0.6331, 0.9633], 'x'),
  xaxis2: axisX(xRangeB, bTicksX, [0.0941, 1], 'y2'),
  yaxis2: axisY(yRangeB, bTicksY, [0.1151, 0.4412], 'x2'),
  shapes: [
    {type: 'line', xref: 'x', yref: 'y', x0: 0, x1: xRangeA[1], y0: 0, y1: 0, line: {color: '#9a9a9a', width: 1.5}, layer: 'above'},
    {type: 'line', xref: 'x2', yref: 'y2', x0: 0, x1: xRangeB[1], y0: 0, y1: 0, line: {color: '#9a9a9a', width: 1.5}, layer: 'above'}
  ],
  annotations: [
    {text: '<b>A</b>', xref: 'paper', yref: 'paper', x: 0.1204, y: 0.9398, xanchor: 'center', yanchor: 'middle', showarrow: false, font: {family: FONT, size: 26, color: '#000'}},
    {text: '<b>B</b>', xref: 'paper', yref: 'paper', x: 0.1204, y: 0.4116, xanchor: 'center', yanchor: 'middle', showarrow: false, font: {family: FONT, size: 26, color: '#000'}},
    {text: yTitle, xref: 'paper', yref: 'paper', x: 0.0337, y: 0.7992, xanchor: 'center', yanchor: 'middle', textangle: -90, showarrow: false, font: titleFont},
    {text: yTitle, xref: 'paper', yref: 'paper', x: 0.0337, y: 0.2861, xanchor: 'center', yanchor: 'middle', textangle: -90, showarrow: false, font: titleFont},
    {text: xTitle, xref: 'paper', yref: 'paper', x: 0.5305, y: 0.5382, xanchor: 'center', yanchor: 'middle', showarrow: false, font: titleFont},
    {text: xTitle, xref: 'paper', yref: 'paper', x: 0.5305, y: 0.0201, xanchor: 'center', yanchor: 'middle', showarrow: false, font: titleFont}
  ]
};

Plotly.newPlot('chart', traces, layout, {staticPlot: true, displayModeBar: false});
</script>
</body>
</html>
